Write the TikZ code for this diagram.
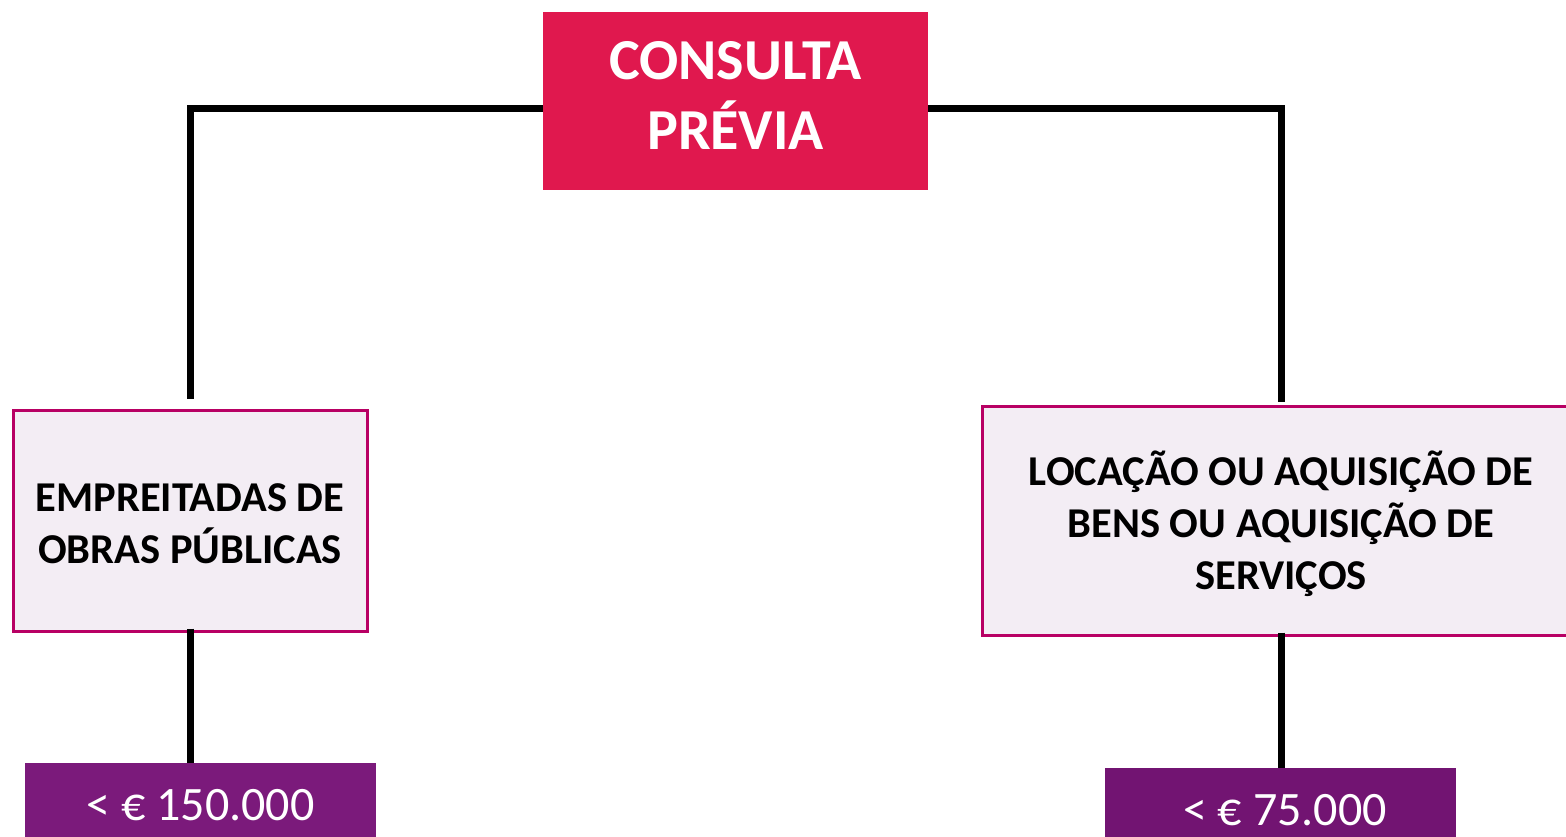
\documentclass[tikz,border=0pt]{standalone}
\usepackage{fontspec}
\setmainfont{Carlito}
\definecolor{topred}{RGB}{224,24,78}
\definecolor{boxfill}{RGB}{243,237,244}
\definecolor{boxline}{RGB}{184,0,100}
\definecolor{purpleA}{RGB}{123,26,123}
\definecolor{purpleB}{RGB}{114,20,114}
\begin{document}
\begin{tikzpicture}[x=1pt,y=-1pt,
  conn/.style={line width=7pt,black},
  headbox/.style={fill=topred,draw=none,inner sep=0pt},
  headtext/.style={text=white,align=center,inner sep=0pt,
    font=\bfseries\fontsize{58}{70}\selectfont},
  catbox/.style={fill=boxfill,draw=boxline,line width=3pt,inner sep=0pt},
  cattext/.style={align=center,inner sep=0pt,
    font=\bfseries\fontsize{42.5}{52}\selectfont},
  valbox/.style={draw=none,text=white,inner sep=0pt,font=\fontsize{48}{56}\selectfont}]
\useasboundingbox (0,0) rectangle (1566,837);
\node[headbox,minimum width=385pt,minimum height=178pt] (top) at (735.5,101) {};
\node[headtext] (toptext) at (735.5,95) {CONSULTA\\PRÉVIA};
\node[catbox,minimum width=354pt,minimum height=221pt] (lbox) at (190,520.5) {};
\node[cattext] (ltitle) at (190,523.5) {EMPREITADAS DE\\OBRAS PÚBLICAS};
\node[catbox,minimum width=598pt,minimum height=229pt] (rbox) at (1281,520.5) {};
\node[cattext] (rtitle) at (1281,523.5) {LOCAÇÃO OU AQUISIÇÃO DE\\BENS OU AQUISIÇÃO DE\\SERVIÇOS};
\node[valbox,fill=purpleA,minimum width=351pt,minimum height=84pt,anchor=north] (lval) at (200.5,763) {};
\node[valbox,fill=purpleB,minimum width=351pt,minimum height=80pt,anchor=north] (rval) at (1280.5,768) {};
\node[valbox,anchor=base] (ltext) at (200.5,820) {< € 150.000};
\node[valbox,anchor=base] (rtext) at (1285,825) {< € 75.000};
\draw[conn] ([yshift=-8pt]top.west) -| ([yshift=10pt]lbox.north);
\draw[conn] ([yshift=-8pt]top.east) -| ([yshift=3pt]rbox.north);
\draw[conn] ([yshift=4pt]lbox.south) -- (lbox.south |- lval.north);
\draw[conn] ([yshift=4pt]rbox.south) -- (rbox.south |- rval.north);
\end{tikzpicture}
\end{document}
